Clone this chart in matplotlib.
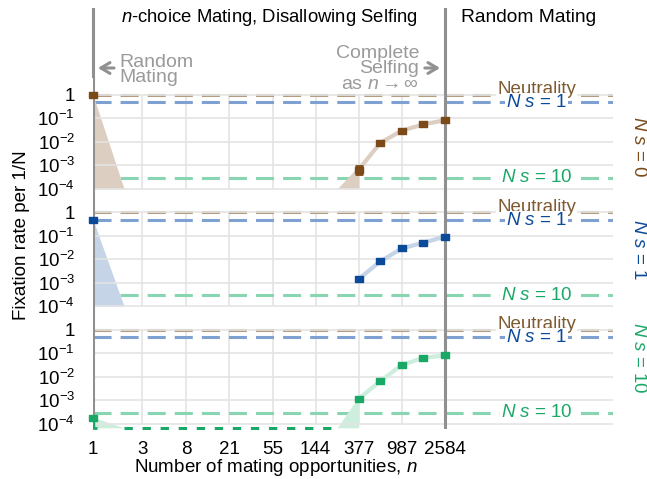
import numpy as np
import matplotlib
matplotlib.use('Agg')
import matplotlib.pyplot as plt
import matplotlib.transforms as mtransforms
from matplotlib.ticker import FixedLocator, FuncFormatter

plt.rcParams['font.family'] = ['Liberation Sans', 'DejaVu Sans']
plt.rcParams['mathtext.fontset'] = 'custom'
plt.rcParams['mathtext.rm'] = 'Liberation Sans'
plt.rcParams['mathtext.it'] = 'Liberation Sans:italic'
plt.rcParams['font.size'] = 13
plt.rcParams['lines.scale_dashes'] = False

# Fibonacci numbers of mating opportunities
fib = [1, 2, 3, 5, 8, 13, 21, 34, 55, 89, 144, 233, 377, 610, 987, 1597, 2584]
xticks = fib[::2]

# measured points (n = 1 and n >= 377)
n_pts = [1, 377, 610, 987, 1597, 2584]
rate_ns0 = [1.0, 6.6e-4, 9.0e-3, 3.0e-2, 5.5e-2, 8.3e-2]
rate_ns1 = [0.49, 1.45e-3, 8.2e-3, 2.9e-2, 5.1e-2, 9.2e-2]
rate_ns10 = [1.8e-4, 1.15e-3, 6.6e-3, 3.2e-2, 6.4e-2, 8.1e-2]

# error bars at n = 377
err377_ns0 = (4.4e-4, 9.5e-4)
err377_ns1 = (1.2e-3, 1.75e-3)
err377_ns10 = (0.92e-3, 1.45e-3)

# Ns = 10: zero fixation for n = 2 .. 233
zero_n_ns10 = fib[1:12]
zero_rate_ns10 = [0.0] * len(zero_n_ns10)

# expectations under random mating
neutral_rate = 1.0
ns1_rate = 0.49
ns10_rate = 2.9e-4

ymin, ymax = 10 ** -4.2, 10 ** 0.8
zero_level = 10 ** -4.17

brown, blue, green = '#7b4a18', '#0b4a99', '#1aa866'
brown_l, blue_l, green_l = '#b39c80', '#7ea1d2', '#88d6b1'
brown_f, blue_f, green_f = '#dccfc2', '#c6d4e8', '#cdeedc'
gray = '#909090'

panels = [
    dict(rate=rate_ns0, err=err377_ns0, c=brown, cl=brown_f, label='$N$ $s$ = 0',
         tri_up=[1.0, 1e-4], wedge_up=[1e-4, err377_ns0[1]], floor=1e-4),
    dict(rate=rate_ns1, err=err377_ns1, c=blue, cl=blue_f, label='$N$ $s$ = 1',
         tri_up=[0.49, 1e-4], wedge_up=None, floor=1e-4),
    dict(rate=rate_ns10, err=err377_ns10, c=green, cl=green_f, label='$N$ $s$ = 10',
         tri_up=[1.9e-4, zero_level], wedge_up=[zero_level, err377_ns10[1]], floor=zero_level),
]
label_y = [147, 249, 358]

W, H = 647, 479
fig = plt.figure(figsize=(W / 100, H / 100), dpi=100)
left, right = 93 / W, 613 / W
ph = 117.5 / H
bottom = 1 - 428.5 / H

rect = [(-1, -0.7), (1, -0.7), (1, 0.7), (-1, 0.7), (-1, -0.7)]
axes = []
for i, p in enumerate(panels):
    ax = fig.add_axes([left, bottom + (2 - i) * ph, right - left, ph])
    axes.append(ax)
    ax.set_xscale('log')
    ax.set_yscale('log')
    ax.set_xlim(1, 1.1e5)
    ax.set_ylim(ymin, ymax)
    for s in ax.spines.values():
        s.set_visible(False)
    ax.xaxis.set_major_locator(FixedLocator(xticks))
    ax.xaxis.set_minor_locator(FixedLocator([]))
    ax.yaxis.set_major_locator(FixedLocator([1e-4, 1e-3, 1e-2, 1e-1, 1]))
    ax.yaxis.set_minor_locator(FixedLocator([]))
    ax.yaxis.set_major_formatter(FuncFormatter(
        lambda v, pos: '1' if v == 1 else '$10^{%d}$' % round(np.log10(v))))
    ax.grid(True, axis='y', color='#e4e4e4', lw=1.2, zorder=0)
    ax.vlines(xticks[1:], 1e-4, 1, color='#e4e4e4', lw=1.2, zorder=0)
    ax.tick_params(length=0, labelsize=13.5)
    ax.tick_params(axis='y', pad=13)
    if i < 2:
        ax.tick_params(axis='x', labelbottom=False)
    else:
        ax.tick_params(axis='x', pad=9)
        ax.xaxis.set_major_formatter(FuncFormatter(lambda v, pos: '%d' % v))

    # reference lines
    ax.axhline(neutral_rate, color=brown_l, lw=2.2, dashes=(13, 6.5), zorder=1)
    ax.axhline(ns1_rate, color=blue_l, lw=2.2, dashes=(13, 6.5), zorder=1)
    ax.axhline(ns10_rate, color=green_l, lw=2.2, dashes=(13, 6.5), zorder=1)
    bb = dict(boxstyle='square,pad=0.05', fc='white', ec='none')
    ax.text(2e4, neutral_rate * 1.08, 'Neutrality', color='#7f5a30', ha='center',
            va='baseline', fontsize=13.5, bbox=bb, zorder=3)
    ax.text(2e4, ns1_rate * 0.93, '$N$ $s$ = 1', color=blue, ha='center',
            va='center', fontsize=13.5, bbox=bb, zorder=3)
    ax.text(2e4, ns10_rate, '$N$ $s$ = 10', color=green, ha='center',
            va='center', fontsize=13.5, bbox=bb, zorder=3)

    # shaded regions
    ax.fill_between(fib[0:2], [p['floor']] * 2, p['tri_up'], color=p['cl'], lw=0, zorder=1.5)
    if p['wedge_up'] is not None:
        ax.fill_between([fib[11], fib[12]], [p['floor']] * 2, p['wedge_up'],
                        color=p['cl'], lw=0, zorder=1.5)
    ax.plot(n_pts[1:], p['rate'][1:], color=p['cl'], lw=3, zorder=1.6,
            solid_capstyle='butt')

    # gray divider lines
    for xv in (1, 2584):
        ax.axvline(xv, color=gray, lw=2.2, zorder=2)

    # points
    ax.plot(n_pts, p['rate'], ls='none', marker=rect, ms=6, color=p['c'],
            zorder=4, clip_on=False)
    lo, hi = p['err']
    ax.errorbar([377], [p['rate'][1]], yerr=[[p['rate'][1] - lo], [hi - p['rate'][1]]],
                fmt='none', ecolor=p['c'], elinewidth=2, capsize=3.2, capthick=2, zorder=4)

    fig.text(639 / W, 1 - label_y[i] / H, p['label'], rotation=270, color=p['c'],
             ha='center', va='center', fontsize=13.5)

ax1, ax3 = axes[0], axes[2]

# Ns = 10 zero fixation shown at the bottom
ax3.plot(zero_n_ns10, [max(v, zero_level) for v in zero_rate_ns10], color=green,
         lw=2.2, dashes=(6, 7), zorder=3, clip_on=False)
ax3.errorbar([1], [rate_ns10[0]], yerr=[[rate_ns10[0] - zero_level], [0.1e-4]],
             fmt='none', ecolor=green, elinewidth=2.5, capsize=3.2, capthick=2, zorder=4)

# dividers extending above the top panel
blend = mtransforms.blended_transform_factory(ax1.transData, ax1.transAxes)
for xv in (1, 2584):
    ax1.plot([xv, xv], [1, (194.5 - 10) / 117.5], color=gray, lw=2.2,
             transform=blend, clip_on=False)

ax1.text(51, (194.5 - 19) / 117.5, '$n$-choice Mating, Disallowing Selfing',
         transform=blend, ha='center', va='center', fontsize=13.3)
ax1.text(16800, (194.5 - 19) / 117.5, 'Random Mating', transform=blend,
         ha='center', va='center', fontsize=13.8)

ax1.annotate('', xy=(1.05, (194.5 - 69) / 117.5), xytext=(1.7, (194.5 - 69) / 117.5),
             xycoords=blend, textcoords=blend,
             arrowprops=dict(arrowstyle='->,head_length=0.5,head_width=0.3',
                             color=gray, lw=2.2))
ax1.text(1.8, (194.5 - 71) / 117.5, 'Random\nMating', transform=blend, ha='left',
         va='center', color='#9a9a9a', fontsize=14, linespacing=0.92)
ax1.annotate('', xy=(2460, (194.5 - 69) / 117.5), xytext=(1550, (194.5 - 69) / 117.5),
             xycoords=blend, textcoords=blend,
             arrowprops=dict(arrowstyle='->,head_length=0.5,head_width=0.3',
                             color=gray, lw=2.2))
ax1.text(1450, (194.5 - 70) / 117.5, 'Complete\nSelfing\nas $n \\rightarrow \\infty$',
         transform=blend, ha='right', va='center', color='#9a9a9a', fontsize=14,
         linespacing=0.92, multialignment='right')

ax3.set_xlabel('Number of mating opportunities, $n$', fontsize=13.5)
ax3.xaxis.set_label_coords((276 - 93) / 520, -0.245)
fig.text(22 / W, 1 - 235 / H, 'Fixation rate per 1/N', rotation=90, ha='center',
         va='center', fontsize=13.5)

fig.savefig('out.png', dpi=100)
